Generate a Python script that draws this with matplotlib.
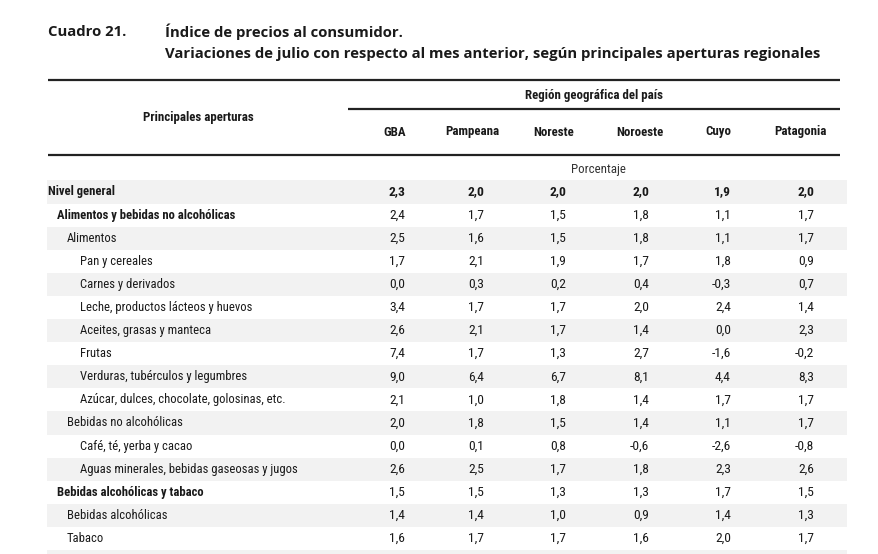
import matplotlib
matplotlib.use('Agg')
import matplotlib.pyplot as plt
from matplotlib.patches import Rectangle

# datos del cuadro
regiones = ['GBA', 'Pampeana', 'Noreste', 'Noroeste', 'Cuyo', 'Patagonia']
aperturas = ['Nivel general',
             'Alimentos y bebidas no alcohólicas',
             'Alimentos',
             'Pan y cereales',
             'Carnes y derivados',
             'Leche, productos lácteos y huevos',
             'Aceites, grasas y manteca',
             'Frutas',
             'Verduras, tubérculos y legumbres',
             'Azúcar, dulces, chocolate, golosinas, etc.',
             'Bebidas no alcohólicas',
             'Café, té, yerba y cacao',
             'Aguas minerales, bebidas gaseosas y jugos',
             'Bebidas alcohólicas y tabaco',
             'Bebidas alcohólicas',
             'Tabaco']
nivel = [0, 1, 2, 3, 3, 3, 3, 3, 3, 3, 2, 3, 3, 1, 2, 2]
negrita = [True, True, False, False, False, False, False, False, False, False,
           False, False, False, True, False, False]
gba = [2.3, 2.4, 2.5, 1.7, 0.0, 3.4, 2.6, 7.4, 9.0, 2.1, 2.0, 0.0, 2.6, 1.5, 1.4, 1.6]
pampeana = [2.0, 1.7, 1.6, 2.1, 0.3, 1.7, 2.1, 1.7, 6.4, 1.0, 1.8, 0.1, 2.5, 1.5, 1.4, 1.7]
noreste = [2.0, 1.5, 1.5, 1.9, 0.2, 1.7, 1.7, 1.3, 6.7, 1.8, 1.5, 0.8, 1.7, 1.3, 1.0, 1.7]
noroeste = [2.0, 1.8, 1.8, 1.7, 0.4, 2.0, 1.4, 2.7, 8.1, 1.4, 1.4, -0.6, 1.8, 1.3, 0.9, 1.6]
cuyo = [1.9, 1.1, 1.1, 1.8, -0.3, 2.4, 0.0, -1.6, 4.4, 1.7, 1.1, -2.6, 2.3, 1.7, 1.4, 2.0]
patagonia = [2.0, 1.7, 1.7, 0.9, 0.7, 1.4, 2.3, -0.2, 8.3, 1.7, 1.7, -0.8, 2.6, 1.5, 1.3, 1.7]
valores = [gba, pampeana, noreste, noroeste, cuyo, patagonia]

fnt = ['Liberation Sans Narrow', 'Roboto Condensed', 'Liberation Sans', 'DejaVu Sans']
ftit = ['Open Sans', 'DejaVu Sans']
col = '#1a1a1a'

fig = plt.figure(figsize=(8.79, 5.54), dpi=100)
ax = fig.add_axes([0, 0, 1, 1])
ax.set_xlim(0, 879)
ax.set_ylim(554, 0)
ax.axis('off')

# titulo
ax.text(48, 32, 'Cuadro 21.', fontsize=10.7, fontweight='bold', family=ftit, color=col, va='center')
ax.text(165, 32, 'Índice de precios al consumidor.', fontsize=10.7, fontweight='bold', family=ftit, color=col, va='center')
ax.text(165, 54, 'Variaciones de julio con respecto al mes anterior, según principales aperturas regionales',
        fontsize=10.7, fontweight='bold', family=ftit, color=col, va='center')

# lineas del encabezado
x0, x1 = 48, 840
ax.plot([x0, x1], [80, 80], color='#222222', lw=1.6, solid_capstyle='butt')
ax.plot([348, x1], [109, 109], color='#222222', lw=1.6, solid_capstyle='butt')
ax.plot([x0, x1], [155, 155], color='#222222', lw=1.6, solid_capstyle='butt')

ax.text(198, 118, 'Principales aperturas', fontsize=9.3, fontweight='bold', family=fnt, color=col, ha='center', va='center')
ax.text(594, 96, 'Región geográfica del país', fontsize=9.3, fontweight='bold', family=fnt, color=col, ha='center', va='center')
centros = [395, 472, 554, 640, 718, 800]
derechas = [405, 484, 566, 649, 731, 814]
for c, r in zip(centros, regiones):
    ax.text(c, 132, r, fontsize=9.3, fontweight='bold', family=fnt, color=col, ha='center', va='center')
ax.text(598, 170, 'Porcentaje', fontsize=9.3, family=fnt, color='#333333', ha='center', va='center')

# filas
y0, dy = 192, 23.1
sangria = {0: 48, 1: 57, 2: 67, 3: 80}
for i, nombre in enumerate(aperturas):
    y = y0 + i * dy
    if i % 2 == 0:
        ax.add_patch(Rectangle((47, y - dy / 2), 800, dy, facecolor='#f2f2f2', edgecolor='none', zorder=0))
    peso = 'bold' if negrita[i] else 'normal'
    ax.text(sangria[nivel[i]], y, nombre, fontsize=9.1, fontweight=peso, family=fnt, color=col, va='center')
    for j in range(len(regiones)):
        v = valores[j][i]
        s = f'{v:.1f}'.replace('.', ',')
        ax.text(derechas[j], y, s, fontsize=9.7, fontweight='bold' if i == 0 else 'normal',
                family=fnt, color=col, ha='right', va='center')
# comienzo de la fila siguiente (cortada)
y = y0 + len(aperturas) * dy
ax.add_patch(Rectangle((47, y - dy / 2), 800, dy, facecolor='#f2f2f2', edgecolor='none', zorder=0))

plt.savefig('out.png', dpi=100)
